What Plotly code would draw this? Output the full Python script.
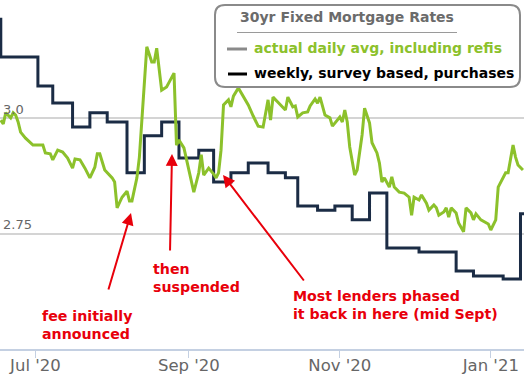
import plotly.graph_objects as go

# ---------------- data ----------------
daily_dates = [
    "2020-06-17", "2020-06-18", "2020-06-19", "2020-06-20", "2020-06-21", "2020-06-22", "2020-06-23",
    "2020-06-24", "2020-06-25", "2020-06-27", "2020-06-30",
    "2020-07-04", "2020-07-05", "2020-07-07", "2020-07-08", "2020-07-10", "2020-07-12", "2020-07-14",
    "2020-07-16", "2020-07-17", "2020-07-19", "2020-07-21", "2020-07-23", "2020-07-25", "2020-07-26",
    "2020-07-27", "2020-07-29",
    "2020-08-01", "2020-08-02", "2020-08-03", "2020-08-05", "2020-08-07", "2020-08-08", "2020-08-09",
    "2020-08-11", "2020-08-12", "2020-08-14", "2020-08-15", "2020-08-17", "2020-08-18", "2020-08-19",
    "2020-08-21", "2020-08-23", "2020-08-24", "2020-08-26", "2020-08-27", "2020-08-28", "2020-08-30",
    "2020-08-31",
    "2020-09-01", "2020-09-03", "2020-09-05", "2020-09-06", "2020-09-07", "2020-09-09", "2020-09-11",
    "2020-09-12", "2020-09-13", "2020-09-14", "2020-09-15", "2020-09-17", "2020-09-18", "2020-09-19",
    "2020-09-21", "2020-09-23", "2020-09-25", "2020-09-27", "2020-09-29",
    "2020-10-01", "2020-10-02", "2020-10-03", "2020-10-04", "2020-10-05", "2020-10-07", "2020-10-08",
    "2020-10-10", "2020-10-11", "2020-10-13", "2020-10-14", "2020-10-15", "2020-10-17", "2020-10-19",
    "2020-10-20", "2020-10-22", "2020-10-23", "2020-10-24", "2020-10-26", "2020-10-28", "2020-10-29",
    "2020-10-30",
    "2020-11-01", "2020-11-02", "2020-11-03", "2020-11-04", "2020-11-05", "2020-11-07", "2020-11-08",
    "2020-11-10", "2020-11-11", "2020-11-13", "2020-11-14", "2020-11-16", "2020-11-17", "2020-11-18",
    "2020-11-19", "2020-11-21", "2020-11-22", "2020-11-23", "2020-11-25", "2020-11-27", "2020-11-28",
    "2020-11-29", "2020-11-30",
    "2020-12-01", "2020-12-03", "2020-12-04", "2020-12-06", "2020-12-07", "2020-12-09", "2020-12-10",
    "2020-12-11", "2020-12-13", "2020-12-14", "2020-12-15", "2020-12-16", "2020-12-18", "2020-12-19",
    "2020-12-21", "2020-12-22", "2020-12-24", "2020-12-25", "2020-12-26", "2020-12-28", "2020-12-30",
    "2020-12-31",
    "2021-01-01", "2021-01-03", "2021-01-04", "2021-01-05", "2021-01-07", "2021-01-08", "2021-01-10",
    "2021-01-11", "2021-01-12", "2021-01-14",
]
daily_rates = [
    2.996, 2.988, 3.012, 3.007, 3.001, 3.012, 3.007, 2.992, 2.970, 2.957, 2.942,
    2.942, 2.925, 2.923, 2.910, 2.931, 2.927, 2.914, 2.892, 2.912, 2.910, 2.892, 2.871, 2.894, 2.923,
    2.923, 2.888,
    2.871, 2.862, 2.806, 2.829, 2.842, 2.821, 2.821, 2.871, 2.916, 3.083, 3.155, 3.122, 3.122, 3.152,
    3.061, 3.068, 3.077, 3.098, 2.942, 2.953, 2.936, 2.910,
    2.884, 2.840, 2.882, 2.921, 2.877, 2.892, 2.879, 2.871, 2.882, 2.931, 3.029, 3.040, 3.025, 3.048,
    3.066, 3.048, 3.029, 3.005, 2.983,
    2.981, 3.007, 3.040, 2.996, 3.046, 3.035, 3.029, 3.018, 3.046, 3.025, 3.027, 3.003, 3.012, 3.014,
    3.027, 3.042, 3.033, 3.046, 3.007, 3.001, 2.983, 2.990,
    3.003, 2.992, 3.018, 2.992, 2.938, 2.877, 2.888, 2.964, 3.022, 2.990, 2.947, 2.925, 2.903, 2.862,
    2.871, 2.851, 2.873, 2.851, 2.840, 2.838, 2.834, 2.829, 2.790,
    2.829, 2.823, 2.834, 2.816, 2.801, 2.812, 2.806, 2.790, 2.797, 2.806, 2.786, 2.806, 2.795, 2.773,
    2.754, 2.806, 2.795, 2.780, 2.793, 2.780, 2.773, 2.771,
    2.758, 2.780, 2.851, 2.862, 2.882, 2.882, 2.942, 2.916, 2.899, 2.888,
]

weekly_dates = [
    "2020-06-10", "2020-06-17", "2020-07-02", "2020-07-08", "2020-07-16", "2020-07-23", "2020-07-30",
    "2020-08-07", "2020-08-14", "2020-08-21", "2020-08-28", "2020-09-05", "2020-09-11", "2020-09-18",
    "2020-09-25", "2020-10-03", "2020-10-10", "2020-10-15", "2020-10-23", "2020-10-30", "2020-11-06",
    "2020-11-13", "2020-11-20", "2020-12-03", "2020-12-18", "2020-12-25", "2021-01-06", "2021-01-13",
    "2021-01-20",
]
weekly_rates = [
    3.215, 3.133, 3.070, 3.033, 2.981, 3.012, 2.992, 2.882, 2.962, 2.992, 2.914, 2.931, 2.862, 2.882,
    2.903, 2.882, 2.871, 2.810, 2.801, 2.810, 2.780, 2.838, 2.719, 2.710, 2.669, 2.658, 2.652, 2.793,
    2.793,
]

x_tick_dates = ["2020-07-01", "2020-09-01", "2020-11-01", "2021-01-01"]
x_tick_labels = ["Jul '20", "Sep '20", "Nov '20", "Jan '21"]
y_tick_vals = [2.75, 3.0, 3.25]
y_tick_labels = ["2.75", "3.0", ""]

legend_title = "30yr Fixed Mortgage Rates"
series_names = ["actual daily avg, including refis", "weekly, survey based, purchases"]

GREEN = "#8cc12b"
NAVY = "#1b2c45"
RED = "#e8000b"
FONT = "DejaVu Sans, Verdana, sans-serif"

W, H = 524, 381
ML, MR, MT, MB = 0, 0, 3, 32
PW, PH = W - ML - MR, H - MT - MB


def px(x):
    return (x - ML) / PW


def py(y):
    return (H - MB - y) / PH


fig = go.Figure()
fig.add_trace(go.Scatter(x=weekly_dates, y=weekly_rates, mode="lines", line_shape="hv",
                         line=dict(color=NAVY, width=3), name=series_names[1]))
fig.add_trace(go.Scatter(x=daily_dates, y=daily_rates, mode="lines",
                         line=dict(color=GREEN, width=3), name=series_names[0]))

# legend box (rounded)
x0, x1, y0, y1, r = px(215), px(520), py(87), py(5), 10
rx, ry = r / PW, r / PH
path = (f"M {x0+rx},{y1} L {x1-rx},{y1} Q {x1},{y1} {x1},{y1-ry} L {x1},{y0+ry} "
        f"Q {x1},{y0} {x1-rx},{y0} L {x0+rx},{y0} Q {x0},{y0} {x0},{y0+ry} "
        f"L {x0},{y1-ry} Q {x0},{y1} {x0+rx},{y1} Z")
shapes = [
    dict(type="path", path=path, xref="paper", yref="paper", fillcolor="white",
         line=dict(color="#8a8a8a", width=2), layer="above"),
    dict(type="line", xref="paper", yref="paper", x0=px(237), x1=px(457), y0=py(32.5), y1=py(32.5),
         line=dict(color="#9a9a9a", width=1), layer="above"),
    dict(type="line", xref="paper", yref="paper", x0=px(227), x1=px(247), y0=py(49), y1=py(49),
         line=dict(color="#8a8a8a", width=3), layer="above"),
    dict(type="line", xref="paper", yref="paper", x0=px(228), x1=px(247), y0=py(74), y1=py(74),
         line=dict(color="#000000", width=3), layer="above"),
]

annotations = [
    dict(text=f"<b>{legend_title}</b>", x=px(347), y=py(17), xref="paper", yref="paper",
         showarrow=False, xanchor="center", yanchor="middle",
         font=dict(family=FONT, size=14, color="#6b6b6b")),
    dict(text=f"<b>{series_names[0]}</b>", x=px(252), y=py(48), xref="paper", yref="paper",
         showarrow=False, xanchor="left", yanchor="middle",
         font=dict(family=FONT, size=14, color=GREEN)),
    dict(text=f"<b>{series_names[1]}</b>", x=px(252), y=py(73), xref="paper", yref="paper",
         showarrow=False, xanchor="left", yanchor="middle",
         font=dict(family=FONT, size=14, color="#000000")),
    # red notes
    dict(text="<b>fee initially<br>announced</b>", x=px(40), y=py(325), xref="paper", yref="paper",
         showarrow=False, xanchor="left", yanchor="middle", align="left",
         font=dict(family=FONT, size=14.2, color=RED)),
    dict(text="<b>then<br>suspended</b>", x=px(151), y=py(278), xref="paper", yref="paper",
         showarrow=False, xanchor="left", yanchor="middle", align="left",
         font=dict(family=FONT, size=14.2, color=RED)),
    dict(text="<b>Most lenders phased<br>it back in here (mid Sept)</b>", x=px(291), y=py(305),
         xref="paper", yref="paper", showarrow=False, xanchor="left", yanchor="middle", align="left",
         font=dict(family=FONT, size=14.2, color=RED)),
    # arrows
    dict(text="", x=px(131), y=py(213), xref="paper", yref="paper", showarrow=True,
         ax=108 - 131, ay=291 - 213, arrowhead=2, arrowsize=1.2, arrowwidth=2, arrowcolor=RED,
         standoff=0),
    dict(text="", x=px(172), y=py(154), xref="paper", yref="paper", showarrow=True,
         ax=170 - 172, ay=252 - 154, arrowhead=2, arrowsize=1.2, arrowwidth=2, arrowcolor=RED,
         standoff=0),
    dict(text="", x=px(223), y=py(175), xref="paper", yref="paper", showarrow=True,
         ax=305 - 223, ay=282 - 175, arrowhead=2, arrowsize=1.2, arrowwidth=2, arrowcolor=RED,
         standoff=0),
]

fig.update_layout(
    width=W, height=H,
    margin=dict(l=ML, r=MR, t=MT, b=MB, pad=0, autoexpand=False),
    paper_bgcolor="white", plot_bgcolor="white",
    showlegend=False, hovermode=False,
    shapes=shapes, annotations=annotations,
    font=dict(family=FONT, color="#666666"),
    xaxis=dict(
        type="date", range=["2020-06-16 16:19", "2021-01-14 10:05"],
        tickmode="array", tickvals=x_tick_dates, ticktext=x_tick_labels,
        showgrid=False, zeroline=False,
        showline=True, linecolor="#c4d0e2", linewidth=2,
        ticks="outside", ticklen=7, tickwidth=1, tickcolor="#c4d0e2",
        tickfont=dict(family=FONT, size=16.5, color="#666666"),
        ticklabelstandoff=-7,
        fixedrange=True, automargin=False,
    ),
    yaxis=dict(
        range=[2.5, 3.25], tickmode="array", tickvals=y_tick_vals, ticktext=y_tick_labels,
        showgrid=True, gridcolor="#d4d4d4", gridwidth=2, zeroline=False, showline=False,
        ticks="", ticklabelposition="inside top",
        tickfont=dict(family=FONT, size=13, color="#666666"),
        fixedrange=True, automargin=False,
    ),
)

fig.write_html("out.html", config={"displayModeBar": False},
               post_script="document.body.style.margin='0';document.body.style.overflow='hidden';")
